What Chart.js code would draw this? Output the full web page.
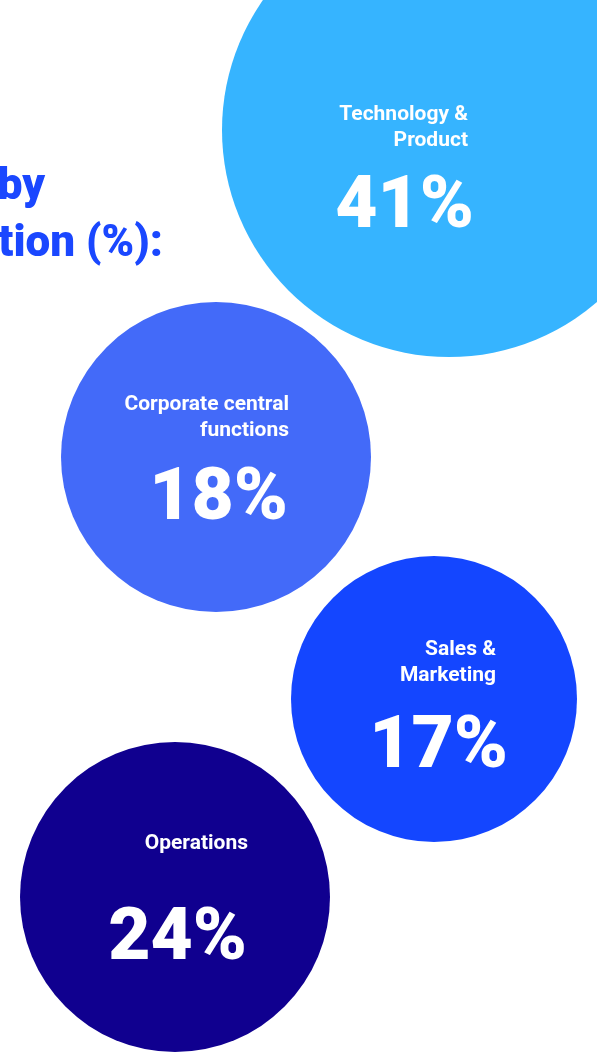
<!DOCTYPE html>
<html>
<head>
<meta charset="utf-8">
<script src="https://cdn.jsdelivr.net/npm/chart.js@4"></script>
<style>
  html, body { margin: 0; padding: 0; background: #fff; overflow: hidden; }
  canvas { display: block; }
</style>
</head>
<body>
<canvas id="chart" width="597" height="1053"></canvas>
<script>
// headcount split by function
const functionNames = [
  ['Technology &', 'Product'],
  ['Corporate central', 'functions'],
  ['Sales &', 'Marketing'],
  ['Operations']
];
const shares = [41, 18, 17, 24];

// bubble placement on the page grid (x, y, radius)
const bubbleX = [449, 216, 434, 175];
const bubbleY = [130, 457, 699, 897];
const bubbleR = [227, 155, 143, 155];

const titleLines = ['by', 'tion (%):'];

const bubbleColors = ['#36B4FF', '#436AF9', '#1446FF', '#10008F'];
const titleColor = '#1A47FF';

// where each label sits relative to its bubble centre
const labelLayout = [
  { nameX: 19, nameY: -10, pctX: 25, pctY: 97 },
  { nameX: 73, nameY: -47, pctX: 72, pctY: 62 },
  { nameX: 62, nameY: -44, pctX: 74, pctY: 68 },
  { nameX: 73, nameY: -48, pctX: 72, pctY: 62 }
];

const FONT = 'Roboto, "Noto Sans", sans-serif';

const bubbleLabels = {
  id: 'bubbleLabels',
  afterDatasetsDraw(chart) {
    const ctx = chart.ctx;
    const meta = chart.getDatasetMeta(0);
    ctx.save();
    ctx.fillStyle = '#fff';
    ctx.textAlign = 'right';
    ctx.textBaseline = 'alphabetic';
    meta.data.forEach((pt, i) => {
      const lay = labelLayout[i];
      ctx.font = '700 21px ' + FONT;
      functionNames[i].forEach((line, j) => {
        ctx.fillText(line, pt.x + lay.nameX, pt.y + lay.nameY + j * 26);
      });
      ctx.font = '900 73px ' + FONT;
      ctx.fillText(shares[i] + '%', pt.x + lay.pctX, pt.y + lay.pctY);
    });

    // heading, running off the left edge
    ctx.fillStyle = titleColor;
    ctx.font = '900 44px ' + FONT;
    ctx.fillText(titleLines[0], 45, 199);
    ctx.fillText(titleLines[1], 163, 256);
    ctx.restore();
  }
};

new Chart(document.getElementById('chart'), {
  type: 'bubble',
  data: {
    labels: functionNames.map(l => l.join(' ')),
    datasets: [{
      data: shares.map((v, i) => ({ x: bubbleX[i], y: bubbleY[i], r: bubbleR[i], v })),
      backgroundColor: bubbleColors,
      borderWidth: 0,
      hoverRadius: 0,
      clip: false
    }]
  },
  options: {
    responsive: false,
    animation: false,
    events: [],
    layout: { padding: 0, autoPadding: false },
    plugins: {
      legend: { display: false },
      tooltip: { enabled: false },
      title: { display: false }
    },
    scales: {
      x: { type: 'linear', min: 0, max: 597, display: false },
      y: { type: 'linear', min: 0, max: 1053, reverse: true, display: false }
    }
  },
  plugins: [bubbleLabels]
});
</script>
</body>
</html>
